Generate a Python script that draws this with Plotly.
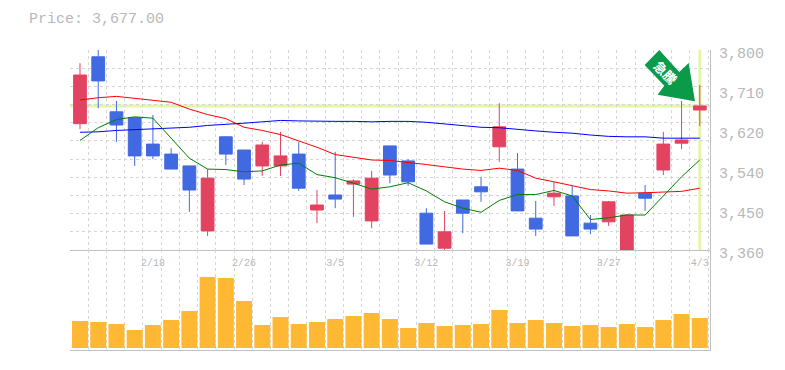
import plotly.graph_objects as go

open_ = [3638,3785,3664,3651,3593,3571,3545,3402,3609,3580,3545,3545,3571,3448,3481,3505,3424,3589,3556,3441,3364,3470,3499,3587,3538,3430,3477,3479,3419,3422,3360,3485,3536,3595,3668]
close = [3745,3732,3635,3567,3567,3538,3492,3518,3571,3516,3591,3567,3496,3459,3472,3512,3518,3525,3510,3373,3400,3441,3488,3631,3446,3406,3485,3391,3406,3466,3437,3474,3593,3602,3677]
high = [3771,3801,3688,3651,3657,3584,3545,3538,3611,3580,3598,3620,3598,3492,3576,3516,3534,3589,3560,3452,3446,3470,3521,3683,3573,3468,3510,3501,3437,3468,3439,3503,3620,3688,3723]
low = [3626,3672,3598,3545,3560,3538,3444,3391,3547,3503,3523,3523,3490,3419,3452,3433,3408,3507,3501,3373,3358,3397,3466,3554,3446,3391,3457,3391,3395,3413,3360,3446,3525,3582,3633]
ma_red = [3690,3695,3698,3694,3690,3685,3670,3658,3649,3630,3623,3614,3600,3586,3570,3564,3558,3557,3553,3548,3543,3538,3535,3540,3535,3518,3510,3502,3493,3490,3485,3486,3487,3489,3496]
ma_blue = [3619,3620,3623,3625,3626,3628,3630,3634,3636,3639,3642,3645,3644,3643,3643,3643,3642,3643,3643,3641,3637,3634,3630,3629,3625,3622,3619,3617,3613,3610,3609,3609,3606,3606,3606]
ma_green = [3601,3629,3647,3653,3650,3606,3562,3538,3537,3532,3534,3547,3551,3526,3519,3507,3494,3499,3508,3490,3466,3452,3443,3469,3482,3482,3491,3479,3427,3431,3437,3437,3479,3521,3558]
volume = [27,26,24,18,23,28,37,71,70,47,23,31,24,26,29,32,35,29,20,25,22,23,24,38,25,28,25,22,23,21,24,21,28,34,30]
date_pos = [4,9,14,19,24,29,34]
date_labels = ["2/18","2/26","3/5","3/12","3/19","3/27","4/3"]
price_ticks = [3360,3448,3536,3624,3712,3800]
price_labels = ["3,360","3,450","3,540","3,620","3,710","3,800"]
price_grid = list(range(3360,3801,40))
last_price = 3677
idx = list(range(len(close)))
edges = [i-0.548 for i in range(len(close)+1)]
GRID="#d6d6d6"; TXT="#b8b8b8"; AX="#c0c0c0"; MONO="Liberation Mono"; PALE="#e4f5a9"
DASH="3px,3px"

fig = go.Figure()
fig.add_trace(go.Scatter(x=idx,y=ma_red,mode="lines",line=dict(color="#ff0000",width=1),xaxis="x",yaxis="y"))
fig.add_trace(go.Scatter(x=idx,y=ma_blue,mode="lines",line=dict(color="#0000ff",width=1),xaxis="x",yaxis="y"))
fig.add_trace(go.Scatter(x=idx,y=ma_green,mode="lines",line=dict(color="#007f00",width=1),xaxis="x",yaxis="y"))
fig.add_trace(go.Candlestick(x=idx,open=open_,high=high,low=low,close=close,whiskerwidth=0,
    increasing=dict(line=dict(color="#e24360",width=1),fillcolor="#e24360"),
    decreasing=dict(line=dict(color="#4169e1",width=1),fillcolor="#4169e1"),xaxis="x",yaxis="y"))
fig.add_trace(go.Bar(x=idx,y=volume,width=0.877,marker=dict(color="#ffb833",line_width=0),xaxis="x2",yaxis="y2"))

arrow = [(-22.3,55.9),(-36.9,40.9),(-17.3,20.2),(-23.9,11.2),(13.4,4.6),(7.1,42.9),(-2.3,33.9)]
arrow_path = "M "+" L ".join(f"{a},{b}" for a,b in arrow)+" Z"

xr=[-0.548,34.56]
minor_x = dict(tickmode="array",tickvals=edges,showgrid=True,gridcolor=GRID,griddash=DASH,gridwidth=1,ticks="")
fig.update_layout(width=785,height=370,autosize=False,margin=dict(l=70,r=75,t=50,b=20,pad=0,autoexpand=False),
    paper_bgcolor="white",plot_bgcolor="white",showlegend=False,boxgap=0,
    title=dict(text="Price: 3,677.00",xref="container",yref="container",x=29/785,y=1-18/370,xanchor="left",yanchor="middle",
               font=dict(family=MONO,size=15,color=TXT)),
    xaxis=dict(domain=[0,1],range=xr,anchor="y",rangeslider=dict(visible=False),tickmode="array",automargin=False,
        tickvals=date_pos,ticktext=date_labels,showgrid=False,zeroline=False,
        showline=True,linecolor=AX,linewidth=1,ticks="",ticklabelstandoff=3,
        tickfont=dict(family=MONO,size=10,color=TXT),minor=minor_x),
    xaxis2=dict(domain=[0,1],range=xr,anchor="y2",showgrid=False,showticklabels=False,zeroline=False,automargin=False,
        showline=True,linecolor=AX,linewidth=1,ticks="",minor=minor_x),
    yaxis=dict(domain=[1/3,1],range=[3360,3800],anchor="x",side="right",tickmode="array",tickvals=price_ticks,ticktext=price_labels,automargin=False,
        showgrid=False,zeroline=False,showline=True,linecolor=AX,linewidth=1,ticks="",ticklabelstandoff=5,ticklabelshift=3,
        tickfont=dict(family=MONO,size=15,color=TXT),
        minor=dict(tickmode="array",tickvals=price_grid,showgrid=True,gridcolor=GRID,griddash=DASH,gridwidth=1,ticks="")),
    yaxis2=dict(domain=[0,1/3],range=[-2,98],anchor="x2",side="right",showgrid=False,showticklabels=False,zeroline=False,automargin=False,
        showline=True,linecolor=AX,linewidth=1,ticks=""),
    shapes=[
        dict(type="line",xref="x domain",yref="y",x0=0,x1=1,y0=last_price,y1=last_price,line=dict(color=PALE,width=3),layer="below"),
        dict(type="line",xref="x",yref="y domain",x0=idx[-1],x1=idx[-1],y0=0,y1=1,line=dict(color=PALE,width=3),layer="below"),
        dict(type="path",xref="x",yref="y",xsizemode="pixel",ysizemode="pixel",xanchor=33,yanchor=last_price,
             path=arrow_path,fillcolor="#0a9a4a",line=dict(width=0),layer="above"),
    ],
    annotations=[dict(text="<b>急騰</b>",xref="paper",yref="paper",x=(666-70)/640,y=(350-72)/300,showarrow=False,textangle=45,
        font=dict(family="Noto Sans CJK JP",size=13,color="white"),xanchor="center",yanchor="middle")])
fig.write_html("out.html",config={"displayModeBar":False},post_script="document.body.style.margin='0';")
